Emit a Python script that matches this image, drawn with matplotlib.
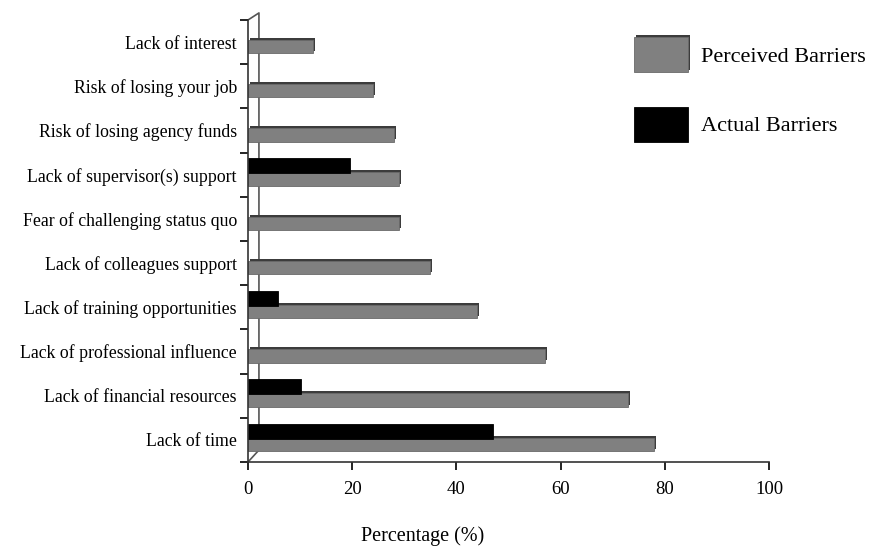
import matplotlib.pyplot as plt
import matplotlib.patheffects as pe
import numpy as np

# data, bottom -> top
categories = ["Lack of time", "Lack of financial resources", "Lack of professional influence",
              "Lack of training opportunities", "Lack of colleagues support",
              "Fear of challenging status quo", "Lack of supervisor(s) support",
              "Risk of losing agency funds", "Risk of losing your job", "Lack of interest"]
perceived = [78, 73, 57, 44, 35, 29, 29, 28, 24, 12.5]
actual = [47, 10.2, 0, 5.8, 0, 0, 19.5, 0, 0, 0]

plt.rcParams['font.family'] = ['Liberation Serif', 'DejaVu Serif']

fig = plt.figure(figsize=(8.71, 5.48), dpi=100)
ax = fig.add_axes([248 / 871, 1 - 462 / 548, 521 / 871, 442 / 548])

y = np.arange(len(categories))
shade = [pe.SimplePatchShadow(offset=(1.2, 1.5), shadow_rgbFace='#3c3c3c', alpha=1), pe.Normal()]

act_y = [yy + 0.2 for yy, v in zip(y, actual) if v > 0]
act_v = [v for v in actual if v > 0]

ax.barh(y - 0.1, perceived, height=0.3, color='#808080', edgecolor='#6a6a6a',
        linewidth=0.6, path_effects=shade, label='Perceived Barriers')
ax.barh(act_y, act_v, height=0.34, color='black', edgecolor='black',
        linewidth=0.6, label='Actual Barriers')

ax.set_xlim(0, 100)
ax.set_ylim(-0.5, len(categories) - 0.5)
ax.set_xticks(range(0, 101, 20))
ax.set_yticks(y)
ax.set_yticklabels(categories, fontsize=12.8)
ax.set_yticks(np.arange(-0.5, len(categories), 1), minor=True)
ax.tick_params(axis='y', which='major', length=0, pad=8)
ax.tick_params(axis='y', which='minor', length=6, width=1.2, direction='out')
ax.tick_params(axis='x', length=6, width=1.2, labelsize=13.5, pad=8)

for s in ['top', 'right']:
    ax.spines[s].set_visible(False)
for s in ['left', 'bottom']:
    ax.spines[s].set_linewidth(1.2)
    ax.spines[s].set_color('#333333')

# back wall of the 3D frame
ax.plot([0, 0.021, 0.021, 0], [0, 0.027, 1.016, 1], transform=ax.transAxes,
        color='#555555', lw=1.2, clip_on=False, zorder=0)

ax.set_xlabel("Percentage (%)", fontsize=14.5)
ax.xaxis.set_label_coords(0.336, -0.146)

h, l = ax.get_legend_handles_labels()
fig.legend(h, l, loc='upper left', bbox_to_anchor=(634 / 871, 1 - 37 / 548),
           frameon=False, fontsize=16, handlelength=2.43, handleheight=2.05,
           handletextpad=0.59, labelspacing=1.55, borderpad=0, borderaxespad=0)

plt.savefig("out.png", dpi=100)
